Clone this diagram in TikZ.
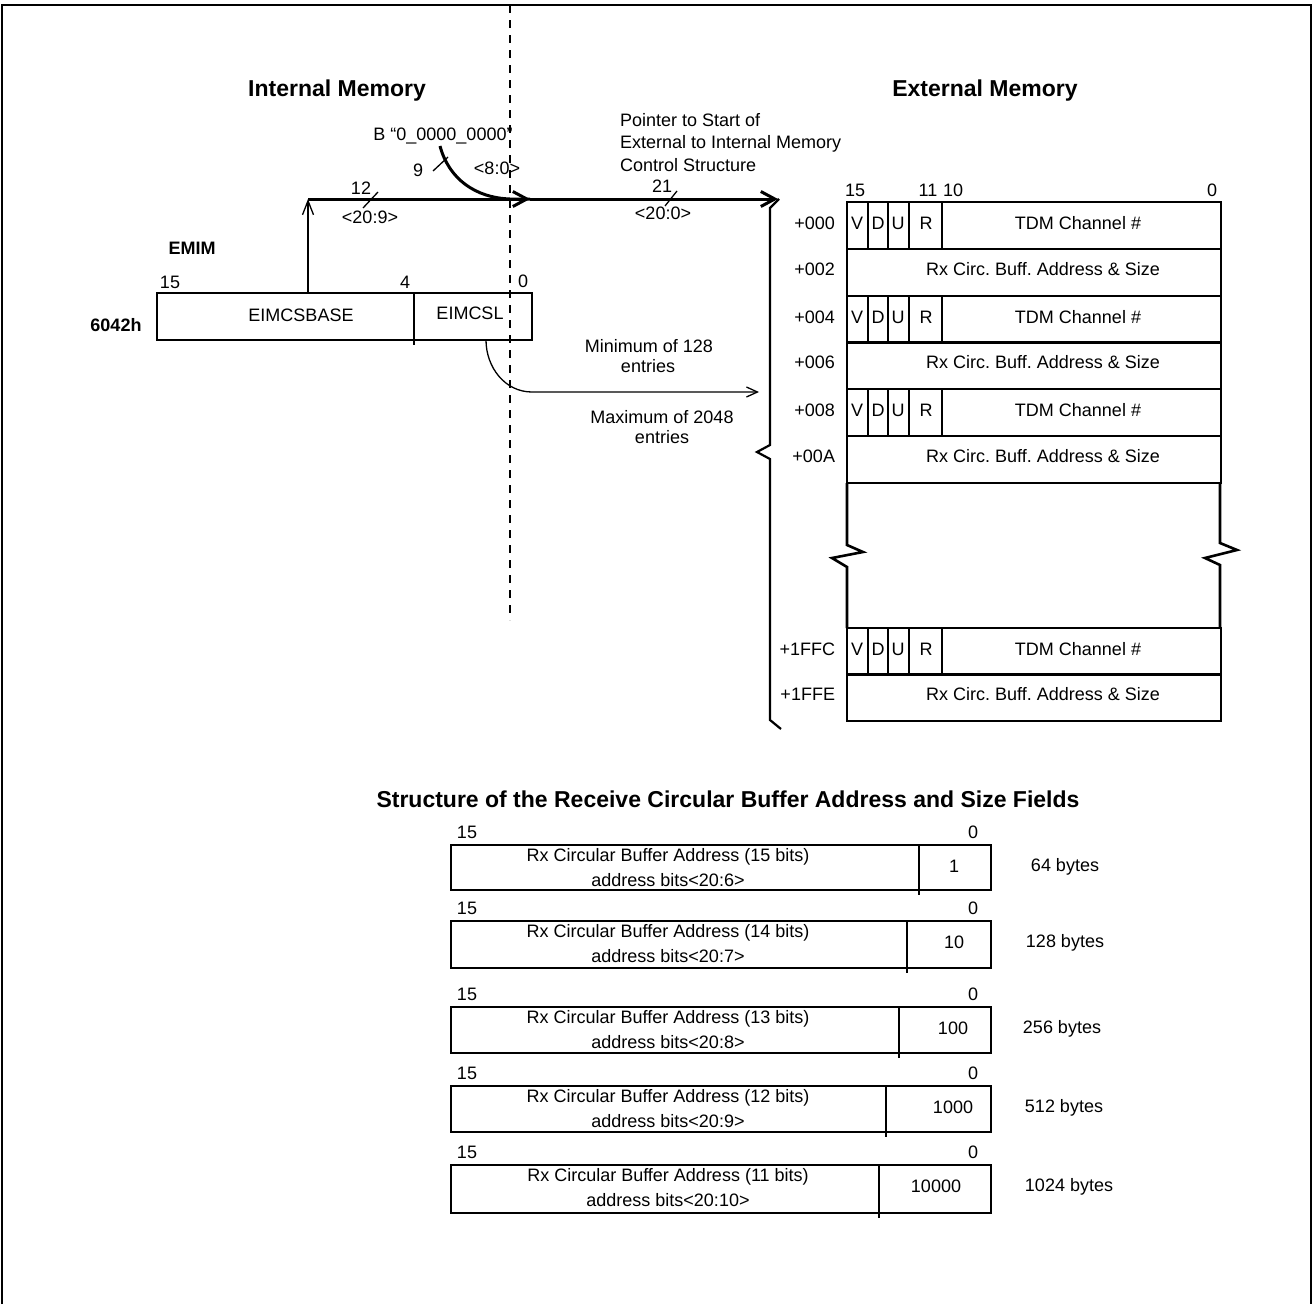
\documentclass[tikz,border=0pt]{standalone}
\usepackage{fontspec}
\setmainfont{Liberation Sans}
\frenchspacing
\usetikzlibrary{arrows.meta, positioning}
\tikzset{
  font=\fontsize{18}{21}\selectfont,              % labels everywhere
  every node/.style = {inner sep=0pt, outer sep=0pt,
                       text height=13pt, text depth=0pt},
  heading/.style    = {font=\fontsize{23}{27}\selectfont\bfseries, text height=16.5pt},
  tag/.style        = {font=\fontsize{18}{21}\selectfont\bfseries},
  bus/.style        = {line width=3pt},
  wire/.style       = {line width=1.3pt},
  memline/.style    = {line width=2.6pt},
  barb/.style       = {-{Straight Barb[length=14pt, width=15pt]}},
  smallbarb/.style  = {-{Straight Barb[length=11pt, width=10pt]}}
}
\begin{document}
\begin{tikzpicture}[x=1pt, y=-1pt]
  \useasboundingbox (0,0) rectangle (1313,1304);
  % frame and memory divider
  \draw[line width=2pt] (2,1304) -- (2,5) -- (1311,5) -- (1311,1304);
  \draw[line width=2pt, dash pattern=on 8pt off 7pt] (510,5) -- (510,620);
  \node[heading] (intmem) at (337,88) {Internal Memory};
  \node[heading] (extmem) at (985,88) {External Memory};

  % EMIM register
  \node[tag] (emim) at (192,248) {EMIM};
  \node[tag] (regaddr) at (116,325) {6042h};
  \draw[line width=2pt] (157,293) rectangle (532,340);
  \draw[line width=2pt] (414,293) -- (414,345);
  \node (reg15) at (170,282) {15};
  \node (reg4) at (405,282) {4};
  \node (reg0) at (523,281) {0};
  \node (eimcsbase) at (301,315) {EIMCSBASE};
  \node (eimcsl) at (470,313) {EIMCSL};

  % pointer bus
  \coordinate (baseup) at (308,293);
  \coordinate (buscorner) at (308,199);
  \coordinate (busmerge) at (510,199);
  \coordinate (busjoin) at (530,199);
  \coordinate (busend) at (778,199);
  \coordinate (bconstout) at (440,146);
  \draw[wire, -{Straight Barb[length=14pt, width=11pt]}] (baseup) -- (buscorner);
  \draw[bus, barb] (buscorner) -- (busjoin);
  \draw[bus, barb] (busjoin) -- (busend);
  \draw[bus] (bconstout) to[out=-75, in=178] (busmerge) -- (busjoin);
  \node (bconst) at (443,134) {B “0\_0000\_0000”};
  \draw[wire] (433,171) -- (448,157);
  \node (w9) at (418,170) {9};
  \node (lo8) at (497,168) {<8:0>};
  \draw[wire] (363,208) -- (378,192);
  \node (w12) at (361,188) {12};
  \node (hi20) at (370,217) {<20:9>};
  \draw[wire] (665,206) -- (677,191);
  \node (w21) at (662,186) {21};
  \node (all20) at (663,213) {<20:0>};
  \node[anchor=west] (ptr1) at (620,120) {Pointer to Start of};
  \node[anchor=west] (ptr2) at (620,142) {External to Internal Memory};
  \node[anchor=west] (ptr3) at (620,165) {Control Structure};

  % table length
  \coordinate (cslout) at (486,340);
  \coordinate (countbend) at (532,392);
  \coordinate (countend) at (759,392);
  \draw[wire, smallbarb] (cslout) to[out=-90, in=180] (countbend) -- (countend);
  \node (min1) at (649,346) {Minimum of 128};
  \node (min2) at (648,365.5) {entries};
  \node (max1) at (662,416.5) {Maximum of 2048};
  \node (max2) at (662,436.5) {entries};
  \draw[line width=2.2pt] (779,199) -- (770,208) -- (770,445) -- (757,452)
    -- (770,459) -- (770,720) -- (781,729);

  % external memory entries
  \node (bit15) at (855,190) {15};
  \node (bit11) at (928,190) {11};
  \node (bit10) at (953,190) {10};
  \node (bit0) at (1212,190) {0};
  \foreach \ry/\off in {202/000, 296/004, 389/008, 628/1FFC} {
    \draw[memline] (847,\ry) rectangle (1221,{\ry+47});
    \draw[memline] (868,\ry) -- (868,{\ry+47}) (888,\ry) -- (888,{\ry+47})
      (909,\ry) -- (909,{\ry+47}) (942,\ry) -- (942,{\ry+47});
    \node[anchor=east] (off\off) at (835,{\ry+21}) {+\off};
    \node (v\off) at (857,{\ry+21}) {V};
    \node (d\off) at (878,{\ry+21}) {D};
    \node (u\off) at (898,{\ry+21}) {U};
    \node (r\off) at (926,{\ry+21}) {R};
    \node (tdm\off) at (1078,{\ry+21}) {TDM Channel \#};
  }
  \foreach \ry/\off in {249/002, 342/006, 436/00A, 674/1FFE} {
    \draw[memline] (847,\ry) rectangle (1221,{\ry+47});
    \node[anchor=east] (off\off) at (835,{\ry+20}) {+\off};
    \node (rx\off) at (1043,{\ry+20}) {Rx Circ. Buff. Address \& Size};
  }
  \draw[memline] (847,483) -- (847,545) -- (863,552) -- (832,558) -- (847,567) -- (847,628);
  \draw[memline] (1220,483) -- (1220,543) -- (1237,550) -- (1205,558) -- (1220,565) -- (1220,628);

  % circular buffer size fields
  \node[heading] (bufftitle) at (728,799) {Structure of the Receive Circular Buffer Address and Size Fields};
  \foreach \ya/\yb/\dx/\vx/\val/\nb/\lob/\sx [count=\i] in
    {845/890/919/954/1/15/6/1065, 921/968/907/954/10/14/7/1065,
     1007/1053/899/953/100/13/8/1062, 1086/1132/886/953/1000/12/9/1064,
     1165/1213/879/936/10000/11/10/1069} {
    \draw[line width=2.4pt] (451,\ya) rectangle (991,\yb);
    \draw[wire] (\dx,\ya) -- (\dx,{\yb+5});
    \node (hi\i) at (467,{\ya-13}) {15};
    \node (lo\i) at (973,{\ya-13}) {0};
    \node (addr\i) at (668,{\ya+10}) {Rx Circular Buffer Address (\nb\ bits)};
    \node (bits\i) at (668,{\ya+35}) {address bits<20:\lob>};
    \node (code\i) at (\vx,{\ya+21}) {\val};
    \node (size\i) at (\sx,{\ya+20}) {\pgfmathparse{int(2^(\i+5))}\pgfmathresult\ bytes};
  }
\end{tikzpicture}
\end{document}
